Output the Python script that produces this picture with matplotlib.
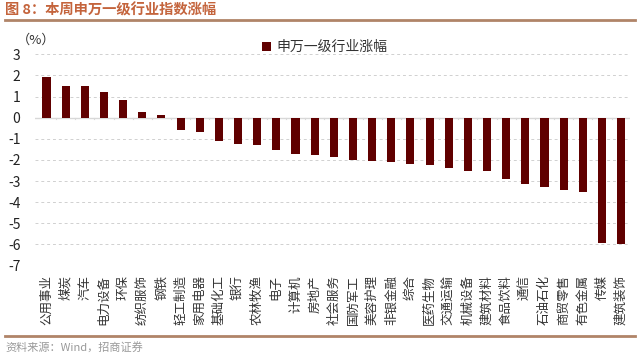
import matplotlib
matplotlib.use("Agg")
import matplotlib.pyplot as plt
from matplotlib.lines import Line2D

plt.rcParams['font.family'] = ['Noto Sans CJK SC', 'DejaVu Sans']

industries = ['公用事业', '煤炭', '汽车', '电力设备', '环保', '纺织服饰', '钢铁',
              '轻工制造', '家用电器', '基础化工', '银行', '农林牧渔', '电子', '计算机',
              '房地产', '社会服务', '国防军工', '美容护理', '非银金融', '综合',
              '医药生物', '交通运输', '机械设备', '建筑材料', '食品饮料', '通信',
              '石油石化', '商贸零售', '有色金属', '传媒', '建筑装饰']
changes = [1.92, 1.52, 1.49, 1.23, 0.85, 0.28, 0.11,
           -0.60, -0.68, -1.10, -1.23, -1.31, -1.51, -1.73,
           -1.75, -1.84, -2.00, -2.03, -2.12, -2.17,
           -2.26, -2.36, -2.50, -2.50, -2.92, -3.16,
           -3.30, -3.43, -3.54, -5.94, -5.98]
yticks = list(range(-7, 4))

bar_color = '#600000'
brown = '#B08468'

fig = plt.figure(figsize=(6.4, 3.57), dpi=100)
ax = fig.add_axes([0.0547, 0.256, 0.9293, 0.592])

x = list(range(len(industries)))
ax.bar(x, changes, width=0.42, color=bar_color, label='申万一级行业涨幅', zorder=3)

ax.set_xlim(-0.6, 30.45)
ax.set_ylim(-7, 3)
ax.set_yticks(yticks)
ax.set_yticklabels([str(v) for v in yticks], fontsize=10, color='#222222')
ax.tick_params(axis='y', length=0, pad=10.5)

ax.set_xticks(x)
ax.set_xticklabels([])
ax.tick_params(axis='x', length=0)
for xi, name in zip(x, industries):
    ax.text(xi, -7.45, name, rotation=90, ha='center', va='top', fontsize=9,
            color='#333333')

for v in yticks:
    if v != 0:
        ax.axhline(v, color='#d0d0d0', lw=0.7, ls=(0, (3, 3)), zorder=1)
ax.axhline(0, color='#d8d8d8', lw=1.0, zorder=2)
for xi in x:
    ax.plot([xi + 0.5, xi + 0.5], [0, -0.08], color='#d8d8d8', lw=0.8, zorder=2)

for s in ax.spines.values():
    s.set_visible(False)

ax.text(-0.03, 1.035, '（%）', transform=ax.transAxes, fontsize=9.5, color='#333333',
        ha='left', va='bottom')

leg = ax.legend(loc='upper left', bbox_to_anchor=(0.36, 1.125), frameon=False,
                fontsize=10, handlelength=0.7, handleheight=0.7, handletextpad=0.4)
for t in leg.get_texts():
    t.set_color('#333333')

fig.text(0.008, 0.972, '图 8：本周申万一级行业指数涨幅', fontsize=10.3, fontweight='bold',
         color='#C4643C', ha='left', va='center')
fig.add_artist(Line2D([0.008, 0.992], [0.944, 0.944], color=brown, lw=2.0))
fig.add_artist(Line2D([0.008, 0.992], [0.059, 0.059], color=brown, lw=2.0))
fig.text(0.008, 0.028, '资料来源：Wind，招商证券', fontsize=8, color='#999999',
         ha='left', va='center')

fig.savefig('out.png', dpi=100)
